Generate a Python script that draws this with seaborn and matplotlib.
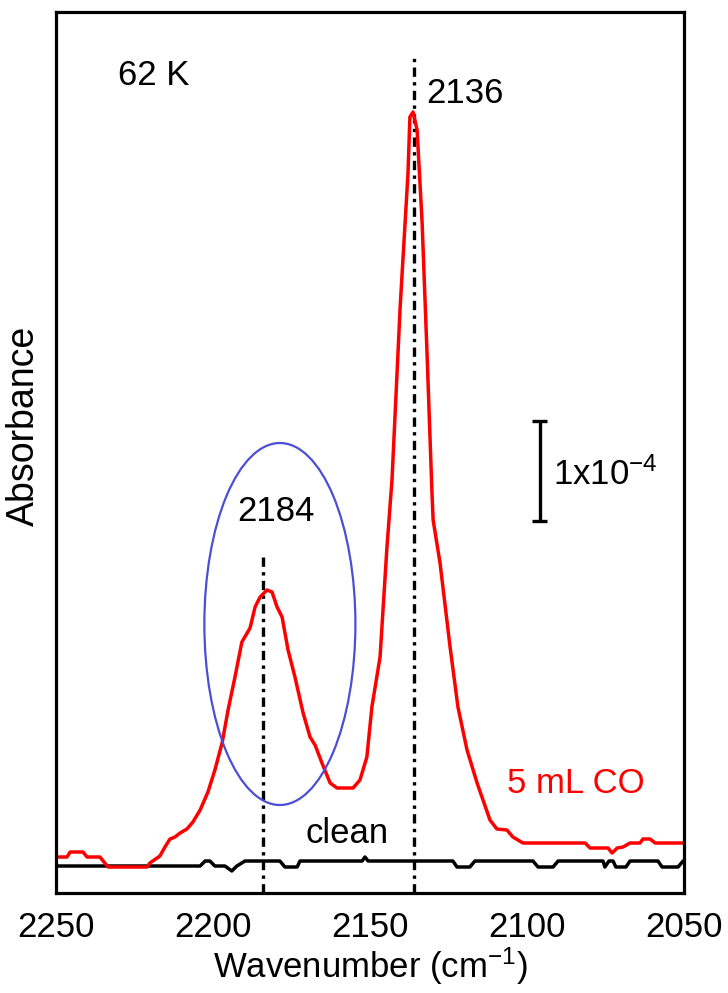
import matplotlib
matplotlib.use("Agg")
import matplotlib.pyplot as plt
from matplotlib.patches import Ellipse
import seaborn as sns
import pandas as pd

# ---- data (wavenumber in cm-1, absorbance in units of 1e-4, offset) ----
red_wn = [2250.0, 2246.5, 2245.5, 2241.4, 2240.1, 2236.0, 2233.4, 2221.0, 2220.1, 2217.8,
          2216.9, 2215.3, 2213.7, 2212.1, 2210.5, 2208.3, 2206.4, 2204.1, 2201.6, 2199.4,
          2197.1, 2195.2, 2193.0, 2190.8, 2188.2, 2186.6, 2185.0, 2182.8, 2181.2, 2179.6,
          2178.0, 2176.1, 2173.9, 2171.3, 2169.1, 2167.5, 2165.3, 2162.7, 2160.5, 2155.4,
          2153.2, 2151.0, 2149.4, 2146.8, 2144.6, 2143.0, 2140.4, 2137.9, 2137.3, 2136.3,
          2135.0, 2133.4, 2131.8, 2130.3, 2129.9, 2127.7, 2124.5, 2122.0, 2119.1, 2115.9,
          2111.8, 2109.6, 2106.4, 2104.5, 2101.3, 2081.5, 2079.9, 2074.2, 2072.9, 2071.3,
          2069.4, 2067.2, 2064.0, 2063.1, 2060.8, 2059.2, 2050.0]
red_abs = [0.36, 0.36, 0.41, 0.41, 0.36, 0.36, 0.26, 0.26, 0.30, 0.35,
           0.37, 0.46, 0.54, 0.56, 0.60, 0.64, 0.71, 0.83, 1.01, 1.23,
           1.50, 1.83, 2.16, 2.51, 2.65, 2.86, 2.96, 3.03, 3.01, 2.86,
           2.76, 2.43, 2.16, 1.80, 1.56, 1.48, 1.30, 1.10, 1.05, 1.05,
           1.13, 1.36, 1.86, 2.36, 3.46, 4.13, 5.86, 7.20, 7.76, 7.81,
           7.63, 6.70, 5.36, 4.03, 3.73, 3.30, 2.46, 1.86, 1.43, 1.10,
           0.73, 0.64, 0.63, 0.56, 0.50, 0.50, 0.45, 0.45, 0.40, 0.45,
           0.46, 0.50, 0.50, 0.54, 0.54, 0.50, 0.50]

clean_wn = [2250.0, 2204.1, 2202.5, 2201.0, 2199.4, 2196.2, 2194.0, 2192.4, 2189.8, 2178.7,
            2177.1, 2173.2, 2172.3, 2152.5, 2151.6, 2150.6, 2123.6, 2122.3, 2118.2, 2116.6,
            2098.1, 2096.5, 2091.7, 2090.1, 2075.8, 2075.2, 2073.9, 2072.6, 2071.7, 2068.5,
            2067.2, 2058.3, 2057.0, 2051.9, 2050.3]
clean_abs = [0.27, 0.27, 0.32, 0.32, 0.27, 0.27, 0.22, 0.27, 0.32, 0.32,
             0.26, 0.26, 0.32, 0.32, 0.36, 0.32, 0.32, 0.26, 0.26, 0.32,
             0.32, 0.26, 0.26, 0.32, 0.32, 0.26, 0.32, 0.32, 0.26, 0.26,
             0.32, 0.32, 0.26, 0.26, 0.32]

peak_positions = [2184, 2136]
peak_line_tops = [3.40, 8.36]
x_ticks = [2250, 2200, 2150, 2100, 2050]
x_tick_labels = ["2250", "2200", "2150", "2100", "2050"]
scale_bar = (2096.0, 3.72, 4.72)   # x, y0, y1  (1x10^-4)

# ---- style ----
sns.set_style("white")
plt.rcParams["font.family"] = ["Liberation Sans", "DejaVu Sans"]
plt.rcParams["text.color"] = "black"
plt.rcParams["axes.labelcolor"] = "black"
plt.rcParams["xtick.color"] = "black"
plt.rcParams["ytick.color"] = "black"
plt.rcParams["mathtext.fontset"] = "custom"
plt.rcParams["mathtext.rm"] = "Liberation Sans"
plt.rcParams["mathtext.it"] = "Liberation Sans:italic"
plt.rcParams["mathtext.bf"] = "Liberation Sans:bold"

fig = plt.figure(figsize=(7.28, 9.93), dpi=100)
ax = fig.add_axes([0.0769, 0.1007, 0.8627, 0.8872])

red_df = pd.DataFrame({"wn": red_wn, "abs": red_abs})
clean_df = pd.DataFrame({"wn": clean_wn, "abs": clean_abs})

sns.lineplot(data=clean_df, x="wn", y="abs", ax=ax, color="black", lw=2.5,
             sort=False, estimator=None)
sns.lineplot(data=red_df, x="wn", y="abs", ax=ax, color="#ff0000", lw=2.5,
             sort=False, estimator=None)

for xp, top in zip(peak_positions, peak_line_tops):
    ax.plot([xp, xp], [0, top], color="black", lw=2.4,
            linestyle=(0, (2.8, 1.6, 1.0, 1.6)), zorder=1)

# ellipse around 2184 band
ax.add_patch(Ellipse((2178.7, 2.69), width=48.1, height=3.62, fill=False,
                     edgecolor="#4b4fd6", lw=1.6, zorder=3))

# scale bar
sx, sy0, sy1 = scale_bar
ax.plot([sx, sx], [sy0, sy1], color="black", lw=2.4, solid_capstyle="butt")
ax.plot([sx - 2.4, sx + 2.4], [sy0, sy0], color="black", lw=2.4, solid_capstyle="butt")
ax.plot([sx - 2.4, sx + 2.4], [sy1, sy1], color="black", lw=2.4, solid_capstyle="butt")
ax.text(2091.7, 4.08, r"1x10$^{\mathregular{-4}}$", fontsize=25, va="baseline", ha="left")

# annotations
ax.text(2230.3, 8.08, "62 K", fontsize=25, va="baseline", ha="left")
ax.text(2132.2, 7.90, "2136", fontsize=25, va="baseline", ha="left")
ax.text(2180.1, 3.72, "2184", fontsize=25, va="baseline", ha="center")
ax.text(2157.2, 0.50, "clean", fontsize=25, va="baseline", ha="center")
ax.text(2106.4, 1.00, "5 mL CO", fontsize=25, va="baseline", ha="left", color="#ff0000")

# axes
ax.set_xlim(2250, 2050)
ax.set_ylim(0, 8.81)
ax.set_xticks(x_ticks)
ax.set_xticklabels(x_tick_labels)
ax.set_xticks([2225, 2175, 2125, 2075], minor=True)
ax.set_yticks([])
ax.tick_params(axis="x", which="major", direction="in", length=8, width=2,
               labelsize=25, pad=13, color="black")
ax.tick_params(axis="x", which="minor", direction="in", length=3, width=2, color="black")
ax.set_xlabel("Wavenumber (cm$^{\\mathregular{-1}}$)", fontsize=25, labelpad=1)
ax.set_ylabel("Absorbance", fontsize=27)
ax.yaxis.set_label_coords(-0.022, 0.53)
for sp in ax.spines.values():
    sp.set_visible(True)
    sp.set_color("black")
    sp.set_linewidth(2.3)

fig.savefig("out.png", dpi=100)
